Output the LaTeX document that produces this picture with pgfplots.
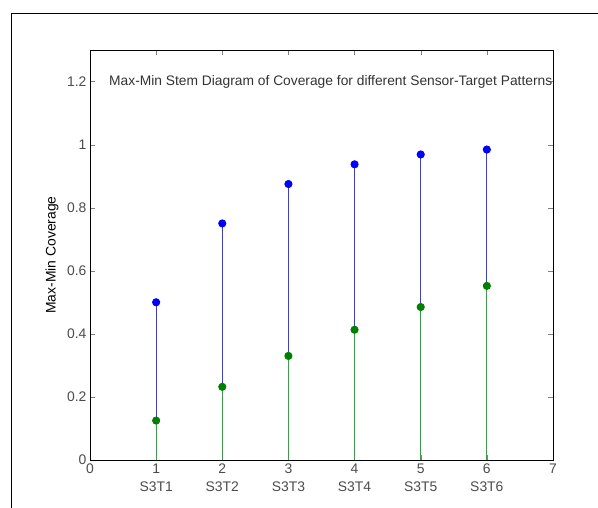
\documentclass[border=0pt]{standalone}
\usepackage{fontspec}
\setmainfont{Liberation Sans}
\usepackage{pgfplots}
\pgfplotsset{compat=1.18}
\definecolor{mblue}{rgb}{0,0,1}
\definecolor{mgreen}{rgb}{0,0.5,0}
\definecolor{bstem}{rgb}{0.25,0.25,0.72}
\definecolor{gstem}{rgb}{0.25,0.6,0.3}
\begin{document}
\begin{tikzpicture}
\useasboundingbox (0pt,0pt) rectangle (598pt,508pt);
\draw[line width=0.9pt] (11pt,-20pt) -- (11pt,495pt) -- (620pt,495pt);
\begin{axis}[
  at={(90pt,48pt)}, anchor=south west,
  scale only axis, width=463pt, height=410pt,
  xmin=0, xmax=7, ymin=0, ymax=1.3,
  xtick={0,1,2,3,4,5,6,7},
  xticklabels={0,{1\\S3T1},{2\\S3T2},{3\\S3T3},{4\\S3T4},{5\\S3T5},{6\\S3T6},7},
  ytick={0,0.2,0.4,0.6,0.8,1,1.2},
  yticklabels={0,0.2,0.4,0.6,0.8,1,1.2},
  tick align=inside, major tick length=5pt,
  xtick pos=both, ytick pos=both,
  font=\fontsize{13.9}{18}\selectfont,
  xticklabel style={align=center, anchor=north, text=black!70},
  yticklabel style={text=black!70},
  ylabel={Max-Min Coverage},
  ylabel style={text=black!70},
  every axis y label/.style={at={(axis description cs:-0.082,0.5)}, rotate=90, anchor=center},
  axis line style={black, line width=0.8pt},
  /pgf/number format/assume math mode=true,
  clip=false,
]
\addplot+[ycomb, color=bstem, line width=0.9pt, mark=*, mark size=3.6pt,
  mark options={fill=mblue, draw=mblue}] coordinates {
  (1,0.5) (2,0.75) (3,0.875) (4,0.9375) (5,0.96875) (6,0.984375)};
\addplot+[ycomb, color=gstem, line width=0.9pt, mark=*, mark size=3.6pt,
  mark options={fill=mgreen, draw=mgreen}] coordinates {
  (1,0.125) (2,0.232) (3,0.33) (4,0.413) (5,0.485) (6,0.552)};
\node[anchor=west, inner sep=0pt, text=black!80, font=\fontsize{13.8}{16}\selectfont] at (axis cs:0.287,1.2) {Max-Min Stem Diagram of Coverage for different Sensor-Target Patterns};
\end{axis}
\end{tikzpicture}
\end{document}
